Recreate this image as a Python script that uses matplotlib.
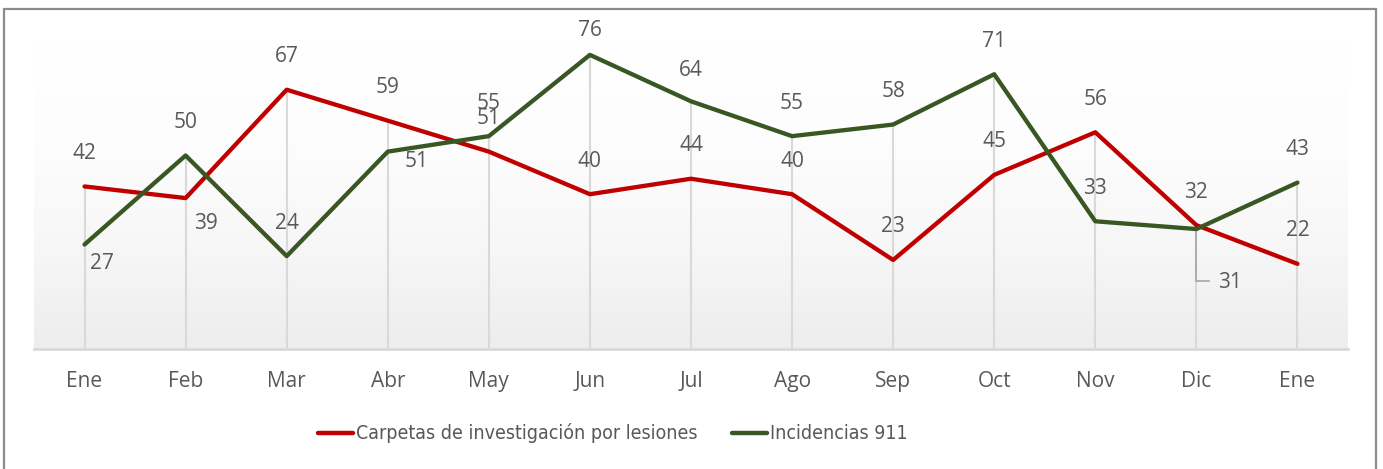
import numpy as np
import matplotlib
matplotlib.use("Agg")
import matplotlib.pyplot as plt
from matplotlib.colors import LinearSegmentedColormap
from matplotlib.patches import Rectangle
from matplotlib.lines import Line2D
from matplotlib import font_manager as fm

months = ["Ene", "Feb", "Mar", "Abr", "May", "Jun", "Jul", "Ago", "Sep", "Oct", "Nov", "Dic", "Ene"]
carpetas = [42, 39, 67, 59, 51, 40, 44, 40, 23, 45, 56, 32, 22]
incidencias = [27, 50, 24, 51, 55, 76, 64, 55, 58, 71, 33, 31, 43]
series_names = ["Carpetas de investigación por lesiones", "Incidencias 911"]

RED = "#C00000"
GREEN = "#385723"
TXT = "#595959"

plt.rcParams['font.family'] = ['Open Sans', 'DejaVu Sans']

# look for a condensed font for the legend
narrow_fp = None
for f in fm.fontManager.ttflist:
    nm = (f.name + " " + f.fname).lower()
    if ("narrow" in nm or "condensed" in nm or str(f.stretch) in ("condensed", "semi-condensed")) \
            and "bold" not in nm and "italic" not in nm and "oblique" not in nm and "mono" not in nm \
            and "serif" not in f.name.lower():
        narrow_fp = f.fname
        break

W, H = 1383, 469
fig = plt.figure(figsize=(W / 100, H / 100), dpi=100)

left_px, right_px, bottom_px = 34, 1348, 349
ymax = 80
px_per_unit = 3.87
top_px = bottom_px - ymax * px_per_unit
ax = fig.add_axes([left_px / W, (H - bottom_px) / H, (right_px - left_px) / W, (bottom_px - top_px) / H])

x = np.arange(len(months))
ax.set_xlim(-0.5, len(months) - 0.5)
ax.set_ylim(0, ymax)

cmap = LinearSegmentedColormap.from_list("g", ["#ededed", "#f7f7f7", "#fdfdfd", "#ffffff"])
grad = np.linspace(0, 1, 256).reshape(-1, 1)
ax.imshow(grad, extent=[-0.5, len(months) - 0.5, 0, ymax], origin="lower", aspect="auto",
          cmap=cmap, zorder=0)

hi = np.maximum(carpetas, incidencias)
ax.vlines(x, 0, hi, colors="#d9d9d9", lw=1.5, zorder=1)

ax.plot(x, carpetas, color=RED, lw=3.1, solid_capstyle="round", solid_joinstyle="round", zorder=3)
ax.plot(x, incidencias, color=GREEN, lw=3.1, solid_capstyle="round", solid_joinstyle="round", zorder=3)

fs = 15
above = (0, 33)
red_off = {1: (20, -25)}
green_off = {0: (17, -19), 3: (29, -10), 5: (0, 24), 6: (0, 31), 11: (34, -53)}

for i, v in enumerate(carpetas):
    dx, dy = red_off.get(i, above)
    ax.annotate(str(v), (x[i], v), xytext=(dx, dy), textcoords="offset pixels",
                ha="center", va="center", fontsize=fs, color=TXT, zorder=4)
for i, v in enumerate(incidencias):
    dx, dy = green_off.get(i, above)
    ax.annotate(str(v), (x[i], v), xytext=(dx, dy), textcoords="offset pixels",
                ha="center", va="center", fontsize=fs, color=TXT, zorder=4)

# leader line for Dic green label
px0, py0 = ax.transData.transform((x[11], incidencias[11]))
inv = ax.transData.inverted()
p1 = inv.transform((px0, py0 - 52))
p2 = inv.transform((px0 + 13, py0 - 52))
ax.plot([x[11], p1[0], p2[0]], [incidencias[11], p1[1], p2[1]], color="#a6a6a6", lw=1.2, zorder=2)

for s in ["top", "left", "right"]:
    ax.spines[s].set_visible(False)
ax.spines["bottom"].set_color("#d9d9d9")
ax.spines["bottom"].set_linewidth(2)
ax.set_yticks([])
ax.set_xticks(x)
ax.set_xticklabels(months, fontsize=fs, color=TXT)
ax.tick_params(axis="x", length=0, pad=16)

# legend (manual, compact)
if narrow_fp:
    lfp = fm.FontProperties(fname=narrow_fp)
else:
    lfp = fm.FontProperties(family=['Open Sans', 'DejaVu Sans'])
lfs = 14
renderer = fig.canvas.get_renderer()
ly = (H - 433) / H
cur = 318
for col, name in zip([RED, GREEN], series_names):
    fig.add_artist(Line2D([cur / W, (cur + 35) / W], [ly, ly], transform=fig.transFigure, color=col,
                          lw=3.2, solid_capstyle="round"))
    t = fig.text((cur + 38) / W, ly, name, fontproperties=lfp, fontsize=lfs, color=TXT,
                 ha="left", va="center")
    wpx = t.get_window_extent(renderer).width
    cur = cur + 38 + wpx + 34

fig.patches.append(Rectangle((4 / W, -0.05), (1376 - 4) / W, (H - 9) / H + 0.05,
                             transform=fig.transFigure, fill=False, edgecolor="#8c8c8c", lw=1.6))

fig.savefig("out.png", dpi=100)
